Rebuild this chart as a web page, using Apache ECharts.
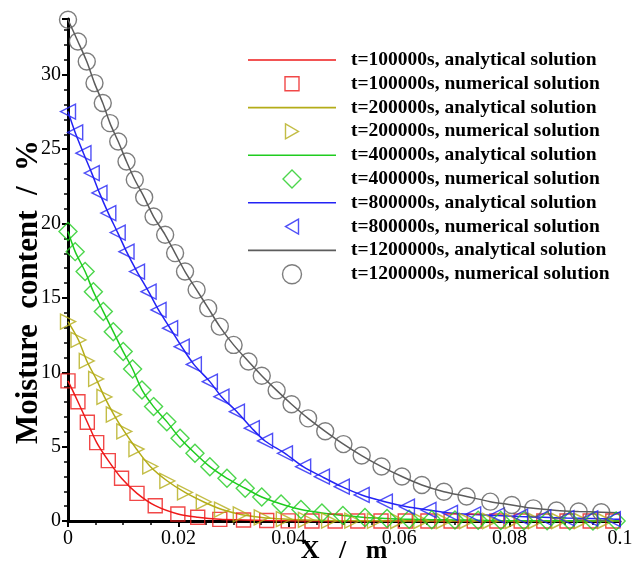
<!DOCTYPE html>
<html lang="en">

<head>
    <meta charset="UTF-8">
    <title>Moisture content</title>
    <script src="https://cdnjs.cloudflare.com/ajax/libs/echarts/6.0.0/echarts.min.js"></script>
    <style>
        html,
        body {
            margin: 0;
            padding: 0;
            background: #fff;
        }

        #main {
            width: 634px;
            height: 562px;
        }
    </style>
</head>

<body>
    <div id="main"></div>
    <script>
        // time labels of the five profiles
        const times = ['100000', '200000', '400000', '800000', '1200000'];

        // numerical solution points (x in m, moisture in %)
        const xRed = [0, 0.0018, 0.0035, 0.0052, 0.0073, 0.0097, 0.0125, 0.0158, 0.0199, 0.0235, 0.0275, 0.0318, 0.0360, 0.0399, 0.0442, 0.0484, 0.0525, 0.0567, 0.0611, 0.0652, 0.0694, 0.0736, 0.0777, 0.0821, 0.0862, 0.0904, 0.0946, 0.0987];
        const yRed = [9.42, 8.02, 6.64, 5.27, 4.06, 2.87, 1.86, 1.03, 0.47, 0.25, 0.11, 0.07, 0.03, 0.01, 0, 0, 0, 0, 0, 0, 0, 0, 0, 0, 0, 0, 0, 0];

        const xYellow = [0, 0.0019, 0.0034, 0.0051, 0.0066, 0.0083, 0.0102, 0.0124, 0.0149, 0.0180, 0.0212, 0.0246, 0.0279, 0.0313, 0.0351, 0.0391, 0.0431, 0.0473, 0.0515, 0.0556, 0.0598, 0.0640, 0.0681, 0.0723, 0.0765, 0.0806, 0.0848, 0.0890, 0.0931, 0.0973];
        const yYellow = [13.41, 12.17, 10.76, 9.55, 8.34, 7.16, 6.02, 4.84, 3.67, 2.69, 1.92, 1.28, 0.77, 0.44, 0.24, 0.13, 0.07, 0.03, 0.02, 0.01, 0, 0, 0, 0, 0, 0, 0, 0, 0, 0];

        const xGreen = [0, 0.0013, 0.0031, 0.0046, 0.0064, 0.0082, 0.0100, 0.0117, 0.0134, 0.0155, 0.0179, 0.0203, 0.0230, 0.0257, 0.0288, 0.0321, 0.0351, 0.0386, 0.0422, 0.0460, 0.0498, 0.0538, 0.0578, 0.0618, 0.0659, 0.0701, 0.0743, 0.0784, 0.0826, 0.0868, 0.0909, 0.0951, 0.0993];
        const yGreen = [19.46, 18.11, 16.77, 15.42, 14.08, 12.73, 11.39, 10.22, 8.81, 7.69, 6.68, 5.56, 4.55, 3.65, 2.87, 2.20, 1.61, 1.14, 0.77, 0.54, 0.37, 0.24, 0.17, 0.11, 0.09, 0.07, 0.05, 0.03, 0.02, 0.01, 0.01, 0, 0];

        const xBlue = [0, 0.0013, 0.0028, 0.0043, 0.0057, 0.0073, 0.0090, 0.0106, 0.0125, 0.0146, 0.0164, 0.0185, 0.0206, 0.0228, 0.0257, 0.0278, 0.0306, 0.0333, 0.0357, 0.0393, 0.0426, 0.0460, 0.0496, 0.0532, 0.0574, 0.0614, 0.0653, 0.0692, 0.0734, 0.0777, 0.0819, 0.0861, 0.0903, 0.0946, 0.0987];
        const yBlue = [27.53, 26.12, 24.73, 23.39, 22.06, 20.70, 19.39, 18.11, 16.77, 15.42, 14.19, 12.96, 11.72, 10.53, 9.37, 8.36, 7.35, 6.24, 5.38, 4.55, 3.65, 2.98, 2.31, 1.75, 1.30, 0.96, 0.74, 0.54, 0.44, 0.37, 0.30, 0.25, 0.20, 0.17, 0.13];

        const xGray = [0, 0.0018, 0.0034, 0.0048, 0.0063, 0.0076, 0.0091, 0.0106, 0.0121, 0.0138, 0.0155, 0.0176, 0.0194, 0.0212, 0.0233, 0.0254, 0.0275, 0.0300, 0.0327, 0.0351, 0.0378, 0.0405, 0.0435, 0.0466, 0.0499, 0.0532, 0.0568, 0.0605, 0.0641, 0.0681, 0.0722, 0.0765, 0.0804, 0.0843, 0.0885, 0.0925, 0.0966];
        const yGray = [33.70, 32.24, 30.89, 29.44, 28.10, 26.75, 25.51, 24.17, 22.94, 21.76, 20.47, 19.24, 18.01, 16.77, 15.54, 14.31, 13.07, 11.84, 10.72, 9.77, 8.78, 7.85, 6.90, 6.03, 5.17, 4.40, 3.66, 2.99, 2.42, 1.97, 1.65, 1.30, 1.08, 0.85, 0.71, 0.64, 0.59];

        // analytical curves run on to x = 0.1, value there
        const lineEndX = 0.1;
        const lineEndY = [0, 0, 0, 0.12, 0.55];

        const xTicks = [0, 0.02, 0.04, 0.06, 0.08, 0.1];
        const yTicks = [0, 5, 10, 15, 20, 25, 30];

        const xs = [xRed, xYellow, xGreen, xBlue, xGray];
        const ys = [yRed, yYellow, yGreen, yBlue, yGray];

        const colors = ['#ee1a1a', '#b4ac18', '#1fcc1f', '#2323f5', '#5c5c5c'];
        const symbols = ['rect', 'triangle', 'diamond', 'triangle', 'circle'];
        const rotates = [0, -90, 0, 90, 0];
        const sizes = [14, 15, 18, 15, 17];
        // legend icons, padded to a 19px box so they keep their own size
        const legendIcons = [
            'path://M-2.5,-2.5M0,0H14V14H0ZM16.5,16.5',
            'path://M-3,-2M0,0L13,7.5L0,15ZM16,17',
            'path://M-0.5,-0.5M9,0L18,9L9,18L0,9ZM18.5,18.5',
            'path://M-3,-2M13,0L0,7.5L13,15ZM16,17',
            'path://M0,9.5A9.5,9.5,0,1,1,19,9.5A9.5,9.5,0,1,1,0,9.5Z'
        ];
        const lineIcon = 'path://M0,0H88V1.6H0Z';

        const serif = 'Liberation Serif';
        const chart = echarts.init(document.getElementById('main'));

        const series = [];
        const legendData = [];
        times.forEach((t, i) => {
            const pts = xs[i].map((x, j) => [x, ys[i][j]]);
            const lineName = 't=' + t + 's, analytical solution';
            const numName = 't=' + t + 's, numerical solution';
            series.push({
                name: lineName,
                type: 'line',
                data: pts.concat([[lineEndX, lineEndY[i]]]),
                symbol: 'none',
                smooth: 0.3,
                lineStyle: { color: colors[i], width: 1.5 },
                itemStyle: { color: colors[i] },
                z: 2
            });
            series.push({
                name: numName,
                type: 'scatter',
                data: pts,
                symbol: symbols[i],
                symbolSize: sizes[i],
                symbolRotate: rotates[i],
                itemStyle: { color: 'rgba(0,0,0,0)', borderColor: colors[i], borderWidth: 1.4 },
                z: 3
            });
            legendData.push({ name: lineName, icon: lineIcon, itemStyle: { color: colors[i], borderWidth: 0 } });
            legendData.push({
                name: numName,
                icon: legendIcons[i],
                itemStyle: { color: 'rgba(0,0,0,0)', borderColor: colors[i], borderWidth: 1.4 }
            });
        });

        const option = {
            animation: false,
            backgroundColor: '#fff',
            grid: { left: 68, right: 14, top: 19, bottom: 41, containLabel: false, outerBoundsMode: 'none' },
            legend: {
                orient: 'vertical',
                left: 248,
                top: 50,
                padding: 0,
                itemWidth: 88,
                itemHeight: 19,
                itemGap: 3.6,
                symbolKeepAspect: true,
                data: legendData,
                textStyle: {
                    fontFamily: serif,
                    fontWeight: 'bold',
                    fontSize: 19.5,
                    lineHeight: 20,
                    color: '#000',
                    padding: [0, 0, 0, 10]
                }
            },
            xAxis: {
                type: 'value',
                min: 0,
                max: 0.1,
                interval: 0.02,
                name: 'X   /   m',
                nameLocation: 'middle',
                nameGap: 17,
                nameMoveOverlap: false,
                nameTextStyle: { fontFamily: serif, fontWeight: 'bold', fontSize: 26, color: '#000' },
                axisLine: { lineStyle: { color: '#000', width: 3 } },
                axisTick: { length: 6, lineStyle: { color: '#000', width: 2 } },
                minorTick: { show: true, splitNumber: 4, length: 4, lineStyle: { color: '#000', width: 1.5 } },
                splitLine: { show: false },
                axisLabel: {
                    margin: 8,
                    fontFamily: serif,
                    fontSize: 20,
                    color: '#000',
                    customValues: xTicks
                }
            },
            yAxis: {
                type: 'value',
                min: 0,
                max: 33.75,
                interval: 5,
                name: 'Moisture  content  /  %',
                nameLocation: 'middle',
                nameRotate: 90,
                nameGap: 24,
                nameMoveOverlap: false,
                nameTextStyle: {
                    fontFamily: serif, fontWeight: 'bold', fontSize: 31, color: '#000',
                    padding: [0, 44, 0, 0]
                },
                axisLine: { lineStyle: { color: '#000', width: 3 } },
                axisTick: { length: 6, lineStyle: { color: '#000', width: 2 } },
                minorTick: { show: true, splitNumber: 5, length: 4, lineStyle: { color: '#000', width: 1.5 } },
                splitLine: { show: false },
                axisLabel: {
                    margin: 7,
                    fontFamily: serif,
                    fontSize: 20,
                    color: '#000',
                    customValues: yTicks
                }
            },
            series: series
        };

        chart.setOption(option);
    </script>

</body>

</html>
